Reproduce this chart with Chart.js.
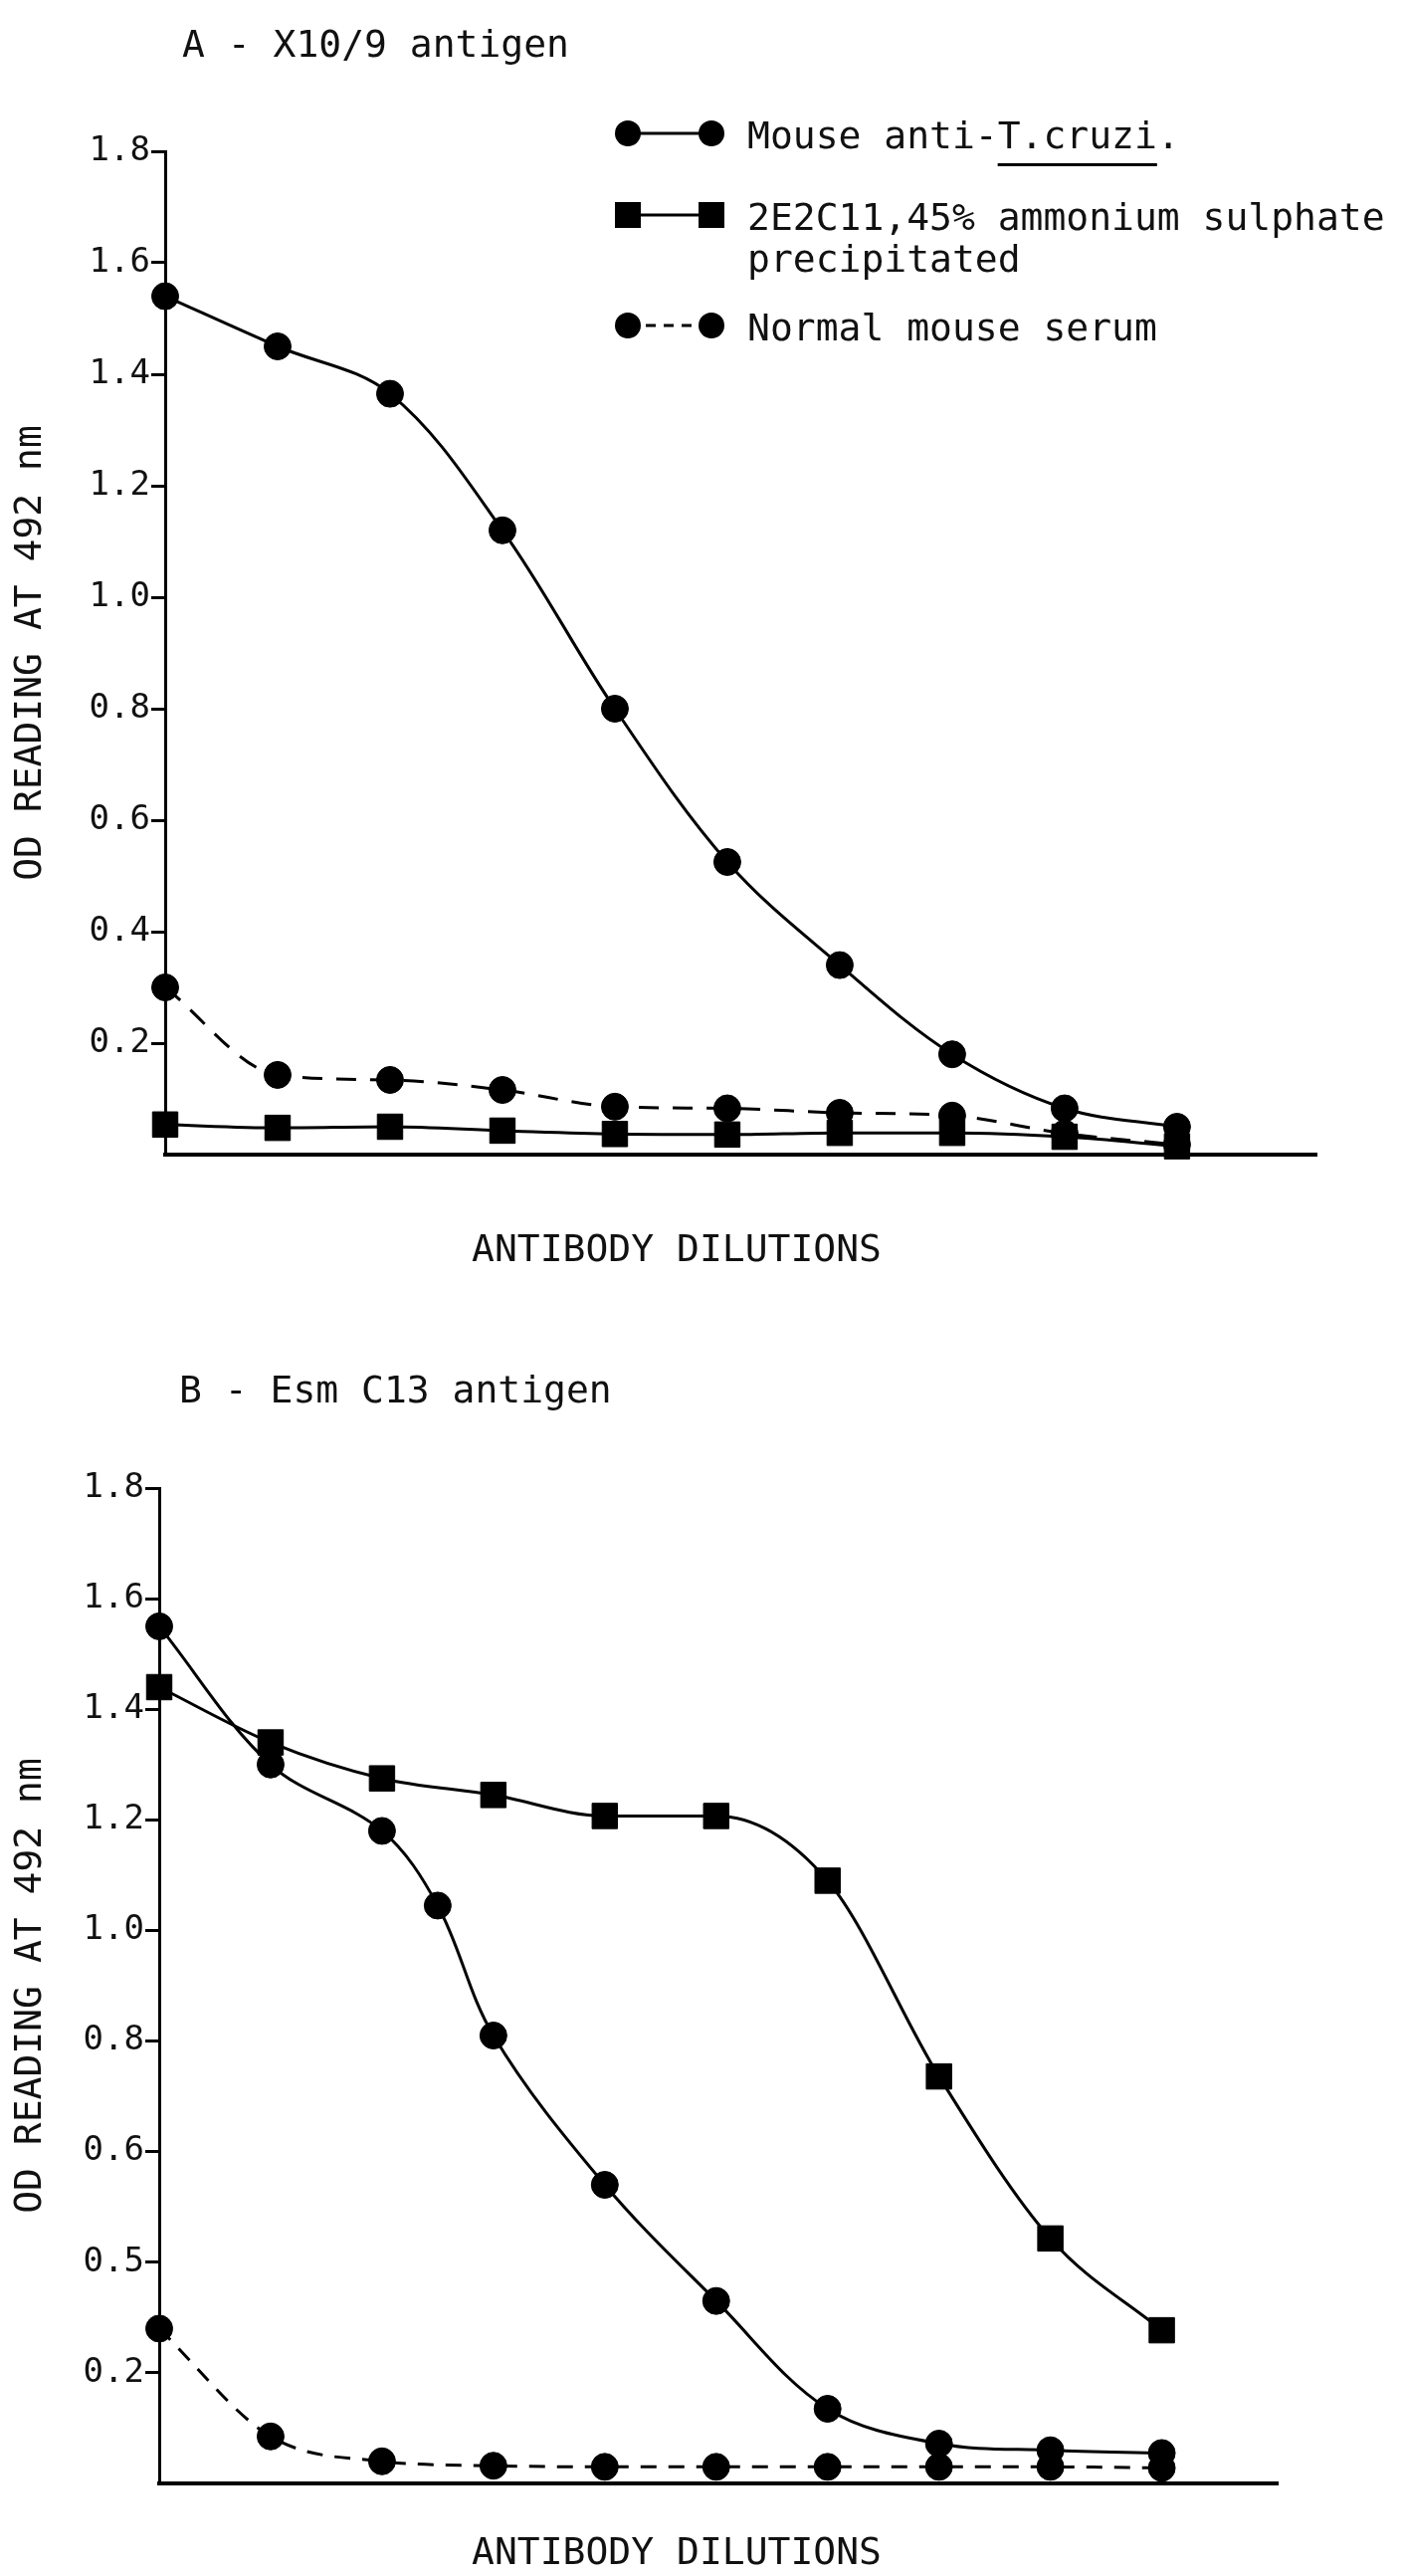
<!DOCTYPE html>
<html>
<head>
<meta charset="utf-8">
<script src="https://cdn.jsdelivr.net/npm/chart.js@4.4.1/dist/chart.umd.min.js"></script>
<style>
  html, body { margin: 0; padding: 0; background: #fff; }
  .panel { width: 1411px; height: 1294px; }
  canvas { display: block; }
</style>
</head>
<body>
<div class="panel"><canvas id="chartA" width="1411" height="1294"></canvas></div>
<div class="panel"><canvas id="chartB" width="1411" height="1294"></canvas></div>
<script>
// panel A - X10/9 antigen
const dilutionsA = [0, 1, 2, 3, 4, 5, 6, 7, 8, 9];
const mouseA = [1.54, 1.45, 1.365, 1.12, 0.80, 0.525, 0.34, 0.18, 0.083, 0.05];
const e2c11A = [0.054, 0.048, 0.05, 0.043, 0.037, 0.036, 0.039, 0.039, 0.032, 0.015];
const normalA = [0.30, 0.143, 0.134, 0.116, 0.086, 0.083, 0.075, 0.07, 0.038, 0.018];
const ticksA = ["", "0.2", "0.4", "0.6", "0.8", "1.0", "1.2", "1.4", "1.6", "1.8"];

// panel B - Esm C13 antigen (mouse serum has an extra reading between 2 and 3)
const dilutionsMouseB = [0, 1, 2, 2.5, 3, 4, 5, 6, 7, 8, 9];
const mouseB = [1.55, 1.30, 1.18, 1.045, 0.81, 0.54, 0.33, 0.135, 0.072, 0.06, 0.055];
const dilutionsB = [0, 1, 2, 3, 4, 5, 6, 7, 8, 9];
const e2c11B = [1.44, 1.34, 1.275, 1.245, 1.207, 1.207, 1.09, 0.736, 0.443, 0.277];
const normalB = [0.28, 0.085, 0.04, 0.032, 0.03, 0.03, 0.03, 0.03, 0.03, 0.028];
const ticksB = ["", "0.2", "0.5", "0.6", "0.8", "1.0", "1.2", "1.4", "1.6", "1.8"];

const seriesNames = [["Mouse anti-T.cruzi."], ["2E2C11,45% ammonium sulphate", "precipitated"], ["Normal mouse serum"]];
const yTitle = "OD READING AT 492 nm";
const xTitle = "ANTIBODY DILUTIONS";

const FONT = "DejaVu Sans Mono";
const INK = "#111";

const toPoints = (xs, ys) => xs.map((x, i) => ({ x: x, y: ys[i] }));

function series(label, xs, ys, style, dash, flat) {
  const ds = {
    label: label,
    data: toPoints(xs, ys),
    borderColor: "#000",
    borderWidth: 3,
    borderDash: dash || [],
    backgroundColor: "#000",
    pointStyle: style,
    pointRadius: style === "rect" ? 18 : 13.5,
    pointBackgroundColor: "#000",
    pointBorderColor: "#000",
    pointBorderWidth: 1,
    tension: 0.35,
    clip: false,
  };
  // plateaus look better without overshoot
  if (flat) ds.cubicInterpolationMode = "monotone";
  return ds;
}

// titles, x label and the hand drawn key
const figureText = {
  id: "figureText",
  afterDraw(chart, args, opts) {
    const ctx = chart.ctx;
    ctx.save();
    ctx.fillStyle = INK;
    ctx.font = opts.size + "px '" + FONT + "'";
    ctx.textBaseline = "alphabetic";
    ctx.textAlign = "left";
    ctx.fillText(opts.title, opts.titleX, opts.titleY);
    ctx.textAlign = "center";
    ctx.fillText(xTitle, opts.xTitleX, opts.xTitleY);
    ctx.textAlign = "left";

    if (opts.key) {
      const k = opts.key;
      chart.data.datasets.forEach((ds, i) => {
        const y = k.rows[i];
        ctx.strokeStyle = "#000";
        ctx.lineWidth = 3;
        ctx.setLineDash(ds.borderDash.length ? [10, 8] : []);
        ctx.beginPath();
        ctx.moveTo(k.x1, y);
        ctx.lineTo(k.x2, y);
        ctx.stroke();
        ctx.setLineDash([]);
        ctx.fillStyle = "#000";
        [k.x1, k.x2].forEach(px => {
          ctx.beginPath();
          if (ds.pointStyle === "rect") ctx.rect(px - 13, y - 13, 26, 26);
          else ctx.arc(px, y, 13, 0, Math.PI * 2);
          ctx.fill();
        });
        ctx.fillStyle = INK;
        seriesNames[i].forEach((line, j) => {
          ctx.fillText(line, k.textX, y + 15 + j * k.lineGap);
        });
      });
      // underline the species name
      const first = seriesNames[0][0];
      const start = first.indexOf("T.cruzi");
      const x0 = k.textX + ctx.measureText(first.slice(0, start)).width;
      const w = ctx.measureText("T.cruzi").width;
      ctx.fillStyle = "#000";
      ctx.fillRect(x0, k.rows[0] + 30, w, 3);
    }
    ctx.restore();
  }
};

function makeOptions(cfg) {
  return {
    responsive: false,
    animation: false,
    events: [],
    layout: { padding: { left: 0, top: cfg.top, right: cfg.right, bottom: 0 } },
    plugins: {
      legend: { display: false },
      tooltip: { enabled: false },
      figureText: cfg.text,
    },
    scales: {
      x: {
        type: "linear",
        min: 0,
        max: cfg.xMax,
        afterFit: s => { s.height = cfg.xHeight; },
        ticks: { display: false },
        grid: { display: false },
        border: { display: true, color: "#000", width: 4 },
      },
      y: {
        type: "linear",
        min: 0,
        max: 1.8,
        afterFit: s => { s.width = cfg.left; },
        ticks: {
          stepSize: 0.2,
          padding: 1,
          color: INK,
          font: { family: FONT, size: 34 },
          callback: v => cfg.tickLabels[Math.round(v / 0.2)],
        },
        grid: {
          drawOnChartArea: false,
          drawTicks: true,
          tickLength: 14,
          tickWidth: 3,
          color: "#000",
          tickColor: c => (c.tick && c.tick.value === 0 ? "rgba(0,0,0,0)" : "#000"),
        },
        border: { color: "#000", width: 3 },
        title: {
          display: true,
          text: yTitle,
          color: INK,
          font: { family: FONT, size: 38 },
          padding: { top: 8, bottom: 0 },
        },
      },
    },
  };
}

const chartA = new Chart(document.getElementById("chartA"), {
  type: "line",
  data: {
    datasets: [
      series(seriesNames[0].join(" "), dilutionsA, mouseA, "circle"),
      series(seriesNames[1].join(" "), dilutionsA, e2c11A, "rect", null, true),
      series(seriesNames[2].join(" "), dilutionsA, normalA, "circle", [20, 14], true),
    ],
  },
  options: makeOptions({
    top: 152, right: 88, left: 166, xHeight: 134, xMax: 10.24, tickLabels: ticksA,
    text: {
      size: 38,
      title: "A - X10/9 antigen", titleX: 183, titleY: 57,
      xTitleX: 680, xTitleY: 1267,
      key: { rows: [134, 216, 327], x1: 631, x2: 715, textX: 751, lineGap: 42 },
    },
  }),
  plugins: [figureText],
});

const chartB = new Chart(document.getElementById("chartB"), {
  type: "line",
  data: {
    datasets: [
      series(seriesNames[0].join(" "), dilutionsMouseB, mouseB, "circle"),
      series(seriesNames[1].join(" "), dilutionsB, e2c11B, "rect", null, true),
      series(seriesNames[2].join(" "), dilutionsB, normalB, "circle", [16, 12], true),
    ],
  },
  options: makeOptions({
    top: 201, right: 127, left: 160, xHeight: 93, xMax: 10.04, tickLabels: ticksB,
    text: {
      size: 38,
      title: "B - Esm C13 antigen", titleX: 180, titleY: 115,
      xTitleX: 680, xTitleY: 1282,
    },
  }),
  plugins: [figureText],
});
</script>
</body>
</html>
